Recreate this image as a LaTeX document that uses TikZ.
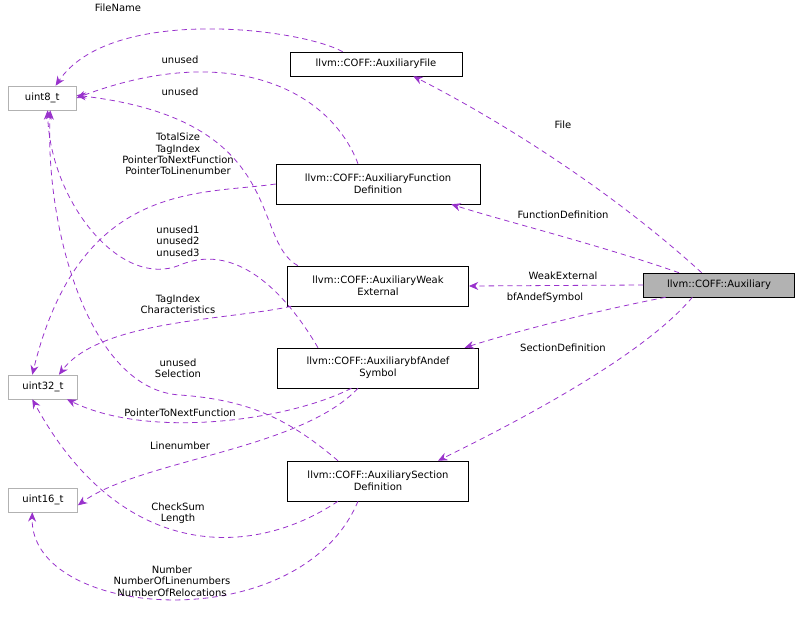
\documentclass[tikz,border=0pt]{standalone}
\usepackage{fontspec}
\setmainfont{DejaVu Sans}
\usetikzlibrary{arrows.meta}
\definecolor{edgepurple}{RGB}{153,50,204}
\tikzset{
  cls/.style={draw=black,fill=white,inner sep=2pt,align=center,font=\fontsize{7.5}{9}\selectfont},
  ext/.style={draw=gray!60,fill=white,inner sep=2pt,minimum height=18pt,anchor=west,font=\fontsize{7.5}{9}\selectfont},
  use/.style={draw=edgepurple,line width=0.6pt,dash pattern=on 4pt off 3pt,-{Stealth[length=7pt,width=6pt]}},
  lbl/.style={align=center,font=\fontsize{7.5}{8.5}\selectfont}
}
\begin{document}
\begin{tikzpicture}[x=0.75pt,y=-0.75pt]
        \useasboundingbox (0,0) rectangle (800,631);

        % Plain types
        \node[ext,minimum width=51pt] (u8) at (8,98) {uint8\_t};
        \node[ext,minimum width=52pt] (u32) at (8,387) {uint32\_t};
        \node[ext,minimum width=52pt] (u16) at (8,500) {uint16\_t};

        % Structs
        \node[cls,minimum width=129pt,minimum height=18pt] (file) at (376,64) {llvm::COFF::AuxiliaryFile};
        \node[cls,minimum width=153pt,minimum height=30pt] (func) at (378,184) {llvm::COFF::AuxiliaryFunction\\Definition};
        \node[cls,minimum width=136pt,minimum height=30pt] (weak) at (378,286) {llvm::COFF::AuxiliaryWeak\\External};
        \node[cls,minimum width=151pt,minimum height=30pt] (bfs) at (378,368) {llvm::COFF::AuxiliarybfAndef\\Symbol};
        \node[cls,minimum width=136pt,minimum height=30pt] (sect) at (378,481) {llvm::COFF::AuxiliarySection\\Definition};
        \node[cls,fill=gray!60,minimum width=113pt,minimum height=18pt] (aux) at (719,285) {llvm::COFF::Auxiliary};

        % Members of Auxiliary
        \draw[use] ([xshift=-13pt]aux.north) .. controls (600,180) and (480,110) .. ([xshift=28pt]file.south);
        \node[lbl] at (563,125) {File};
        \draw[use] ([xshift=-30pt]aux.north) .. controls (600,245) and (500,220) .. ([xshift=55pt]func.south);
        \node[lbl] at (563,215) {FunctionDefinition};
        \draw[use] (aux.west) -- (weak.east);
        \node[lbl] at (563,276) {WeakExternal};
        \draw[use] ([xshift=-40pt]aux.south) .. controls (600,310) and (520,330) .. ([xshift=65pt]bfs.north);
        \node[lbl] at (545,298) {bfAndefSymbol};
        \draw[use] ([xshift=-20pt]aux.south) .. controls (640,360) and (500,430) .. ([xshift=45pt]sect.north);
        \node[lbl] at (563,348) {SectionDefinition};

        % Members to uint8_t
        \draw[use] ([xshift=-25pt]file.north) .. controls (300,28) and (110,5) .. ([xshift=10pt]u8.north);
        \node[lbl] at (118,8) {FileName};
        \draw[use] ([xshift=-15pt]func.north) .. controls (330,90) and (230,40) .. (u8.east);
        \node[lbl] at (180,60) {unused};
        \draw[use] ([xshift=-60pt]weak.north) .. controls (250,240) and (290,120) .. ([yshift=2pt]u8.east);
        \node[lbl] at (180,92) {unused};
        \draw[use] ([xshift=-45pt]bfs.north) .. controls (290,300) and (240,240) .. (180,265) .. controls (120,290) and (50,200) .. ([xshift=4pt]u8.south);
        \node[lbl] at (178,241) {unused1\\unused2\\unused3};
        \draw[use] ([xshift=-30pt]sect.north) .. controls (290,420) and (250,400) .. (180,395) .. controls (90,390) and (45,230) .. ([xshift=6pt]u8.south);
        \node[lbl] at (178,368) {unused\\Selection};

        % Members to uint32_t
        \draw[use] (func.west) .. controls (200,195) and (80,180) .. ([xshift=-8pt]u32.north);
        \node[lbl] at (178,154) {TotalSize\\TagIndex\\PointerToNextFunction\\PointerToLinenumber};
        \draw[use] ([xshift=-65pt]weak.south) .. controls (230,320) and (100,320) .. ([xshift=12pt]u32.north);
        \node[lbl] at (178,304) {TagIndex\\Characteristics};
        \draw[use] ([xshift=-20pt]bfs.south) .. controls (290,420) and (150,440) .. ([xshift=18pt]u32.south);
        \node[lbl] at (180,413) {PointerToNextFunction};
        \draw[use] ([xshift=-30pt]sect.south) .. controls (250,560) and (120,560) .. ([xshift=-8pt]u32.south);
        \node[lbl] at (178,513) {CheckSum\\Length};

        % Members to uint16_t
        \draw[use] ([xshift=-15pt]bfs.south) .. controls (300,450) and (140,460) .. ([yshift=-4pt]u16.east);
        \node[lbl] at (180,446) {Linenumber};
        \draw[use] ([xshift=-15pt]sect.south) .. controls (300,640) and (30,620) .. ([xshift=-8pt]u16.south);
        \node[lbl] at (172,581) {Number\\NumberOfLinenumbers\\NumberOfRelocations};
\end{tikzpicture}
\end{document}
